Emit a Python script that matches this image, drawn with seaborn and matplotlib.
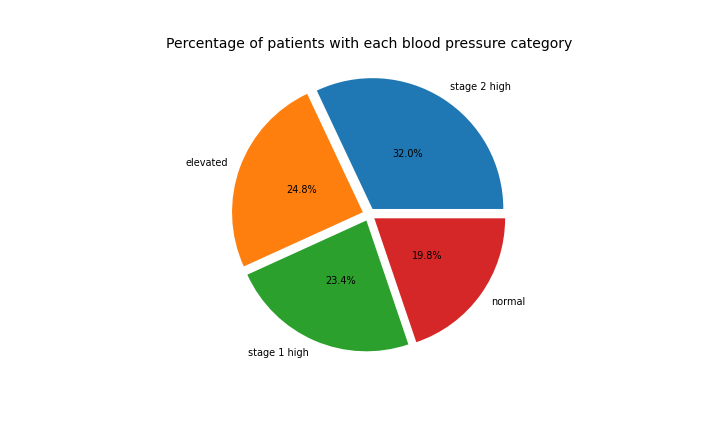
import matplotlib
matplotlib.use("Agg")
import matplotlib.pyplot as plt
import seaborn as sns

categories = ["stage 2 high", "elevated", "stage 1 high", "normal"]
percentages = [32.0, 24.8, 23.4, 19.8]

colors = sns.color_palette("tab10", len(categories))

fig, ax = plt.subplots(figsize=(7.2, 4.32), dpi=100)
fig.subplots_adjust(top=0.882, bottom=0.125)
ax.pie(percentages, labels=categories, colors=colors, autopct="%1.1f%%",
       pctdistance=0.5, explode=[0.05] * len(categories),
       textprops={"fontsize": 7})
ax.set_title("Percentage of patients with each blood pressure category",
             fontsize=10.1, pad=2)
plt.savefig("out.png")
